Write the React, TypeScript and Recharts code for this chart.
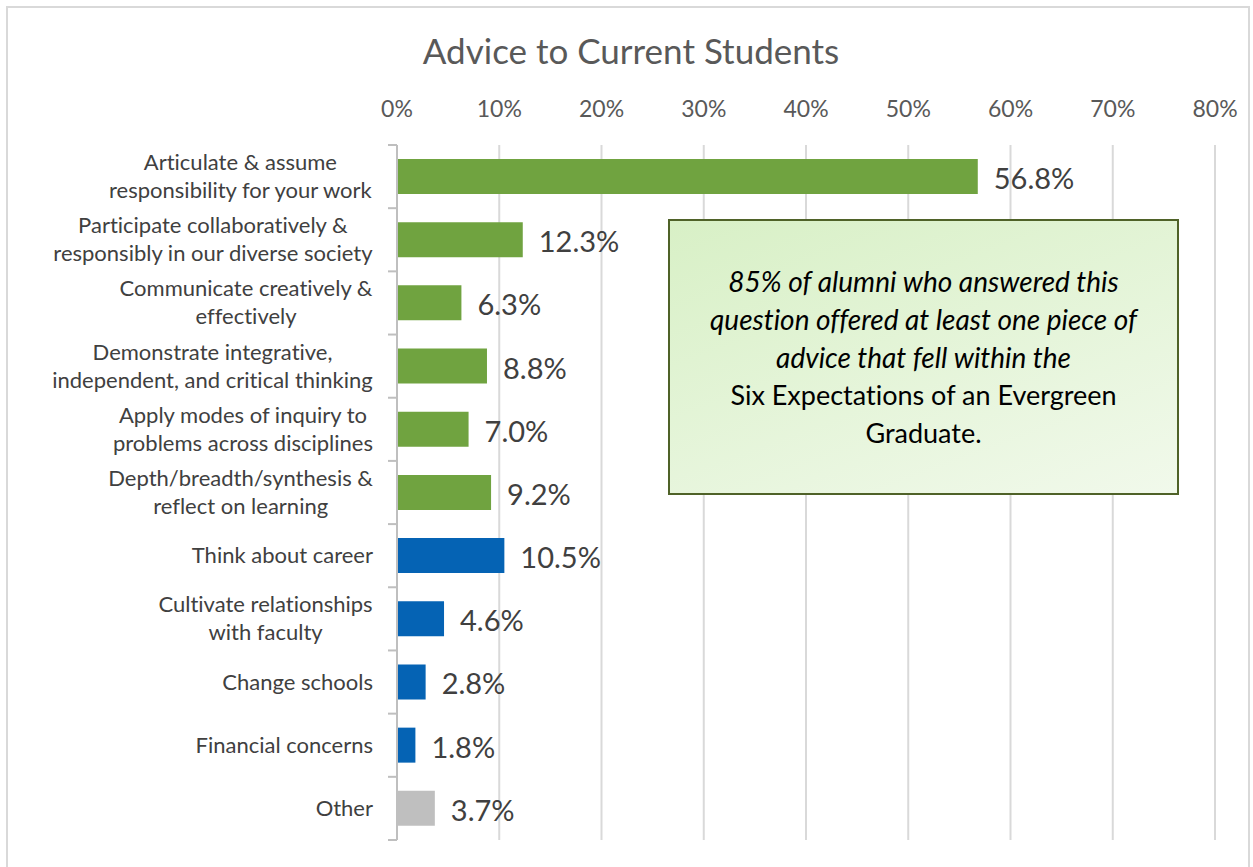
import { BarChart, Bar, XAxis, YAxis, CartesianGrid, Cell, LabelList } from "recharts";

const categories: string[][] = [
  ["Articulate & assume", "responsibility for your work"],
  ["Participate collaboratively &", "responsibly in our diverse society"],
  ["Communicate creatively &", "effectively"],
  ["Demonstrate integrative,", "independent, and critical thinking"],
  ["Apply modes of inquiry to", "problems across disciplines"],
  ["Depth/breadth/synthesis &", "reflect on learning"],
  ["Think about career"],
  ["Cultivate relationships", "with faculty"],
  ["Change schools"],
  ["Financial concerns"],
  ["Other"],
];
const values = [56.8, 12.3, 6.3, 8.8, 7.0, 9.2, 10.5, 4.6, 2.8, 1.8, 3.7];
const groups = ["six", "six", "six", "six", "six", "six", "other", "other", "other", "other", "misc"];
const xTicks = [0, 10, 20, 30, 40, 50, 60, 70, 80];

const groupColors: Record<string, string> = { six: "#70a340", other: "#0563b4", misc: "#bfbfbf" };
const FONT = "Lato, 'Open Sans', sans-serif";

const data = categories.map((lines, i) => ({ key: String(i), lines, value: values[i], group: groups[i] }));

const PLOT_TOP = 145;
const PLOT_BOTTOM = 840;
const BAND = (PLOT_BOTTOM - PLOT_TOP) / categories.length;

let ctx: CanvasRenderingContext2D | null = null;
function measure(text: string, size: number) {
  if (!ctx) ctx = document.createElement("canvas").getContext("2d");
  if (!ctx) return text.length * size * 0.5;
  ctx.font = `${size}px Lato`;
  return ctx.measureText(text).width;
}

function CategoryTick({ y, payload, index }: any) {
  const lines = categories[Number(payload.value)] ?? [];
  const size = 22;
  const right = 373;
  const blockW = Math.max(...lines.map((l) => measure(l, size)));
  const cx = right - blockW / 2;
  const lh = 28;
  const start = y - 1 - ((lines.length - 1) * lh) / 2;
  return (
    <g>
      {index === 0 && <line x1={388} x2={397} y1={y - BAND / 2} y2={y - BAND / 2} stroke="#bfbfbf" strokeWidth={2} />}
      <line x1={388} x2={397} y1={y + BAND / 2} y2={y + BAND / 2} stroke="#bfbfbf" strokeWidth={2} />
      {lines.map((l, i) => (
        <text key={i} x={cx} y={start + i * lh} textAnchor="middle" dominantBaseline="central" fontSize={size} fill="#404040" fontFamily={FONT}>
          {l}
        </text>
      ))}
    </g>
  );
}

function PercentTick({ x, payload }: any) {
  return (
    <text x={x} y={117} textAnchor="middle" fontSize={23} fill="#595959" fontFamily={FONT}>
      {payload.value}%
    </text>
  );
}

function ValueLabel({ x, y, width, height, value }: any) {
  return (
    <text x={x + width + 16} y={y + height / 2 + 1} dominantBaseline="central" fontSize={29} fill="#404040" fontFamily={FONT}>
      {Number(value).toFixed(1)}%
    </text>
  );
}

export default function App() {
  return (
    <div style={{ position: "absolute", left: 0, top: 0, width: 1253, height: 867, background: "#fff", fontFamily: FONT, fontVariantLigatures: "none" }}>
      <div style={{ position: "absolute", left: 6, top: 6, width: 1244, height: 870, border: "2px solid #d9d9d9", boxSizing: "border-box" }} />
      <div style={{ position: "absolute", left: 0, width: 1262, top: 29, textAlign: "center", fontSize: 35, lineHeight: "42px", color: "#595959" }}>
        Advice to Current Students
      </div>
      <div style={{ position: "absolute", left: 0, top: 0 }}>
        <BarChart width={1253} height={867} data={data} layout="vertical" margin={{ top: 80, right: 38, bottom: 27, left: 0 }}>
          <CartesianGrid horizontal={false} vertical stroke="#d9d9d9" strokeWidth={2} />
          <XAxis type="number" orientation="top" domain={[0, 80]} ticks={xTicks} height={65} axisLine={false} tickLine={false} tick={<PercentTick />} interval={0} />
          <YAxis type="category" dataKey="key" width={397} axisLine={{ stroke: "#bfbfbf", strokeWidth: 2 }} tickLine={false} tick={<CategoryTick />} interval={0} />
          <Bar dataKey="value" barSize={35} isAnimationActive={false}>
            {data.map((d) => (
              <Cell key={d.key} fill={groupColors[d.group]} />
            ))}
            <LabelList dataKey="value" content={<ValueLabel />} />
          </Bar>
        </BarChart>
      </div>
      <div
        style={{
          position: "absolute",
          left: 668,
          top: 219,
          width: 511,
          height: 276,
          boxSizing: "border-box",
          border: "2px solid #4f6228",
          background: "linear-gradient(160deg, #d8f0c6 0%, #f1f9eb 100%)",
          display: "flex",
          flexDirection: "column",
          justifyContent: "center",
          alignItems: "center",
          textAlign: "center",
          lineHeight: "38px",
          color: "#000",
          paddingBottom: 0,
        }}
      >
        <div style={{ fontStyle: "italic", fontSize: 28 }}>
          85% of alumni who answered this
          <br />
          question offered at least one piece of
          <br />
          advice that fell within the
        </div>
        <div style={{ fontSize: 27 }}>
          Six Expectations of an Evergreen
          <br />
          Graduate.
        </div>
      </div>
    </div>
  );
}
